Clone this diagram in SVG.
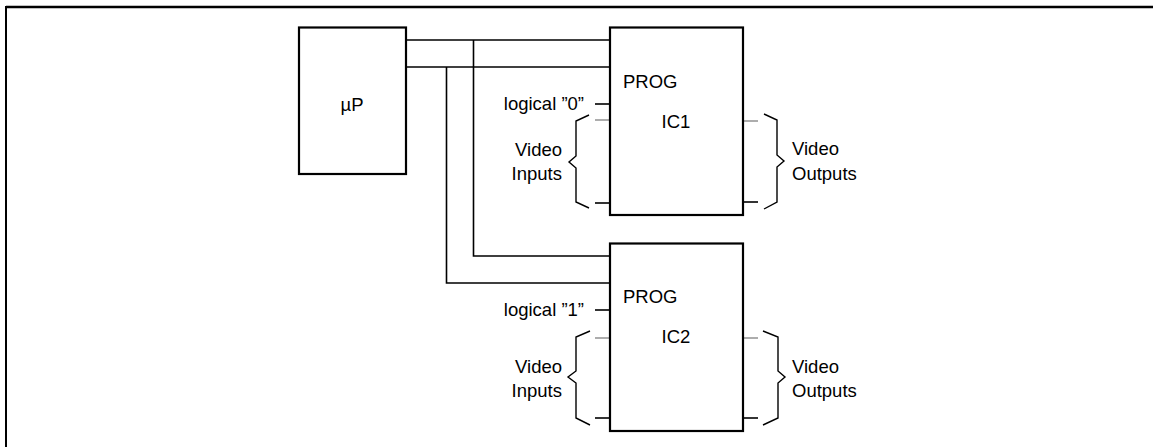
<svg xmlns="http://www.w3.org/2000/svg" width="1153" height="447" viewBox="0 0 1153 447">
<style>
text{font-family:"Liberation Sans",Arial,sans-serif;font-size:18.5px;fill:#000}
.box{fill:#fff;stroke:#000;stroke-width:2.2}
.w{fill:none;stroke:#000;stroke-width:1.6}
.g{fill:none;stroke:#808080;stroke-width:1.3}
.br{fill:none;stroke:#000;stroke-width:1.4;stroke-linejoin:miter}
.r{text-anchor:end}
</style>
<rect width="1153" height="447" fill="#fff"/>
<g id="frame">
<line x1="6" y1="7" x2="1153" y2="7" stroke="#000" stroke-width="2.6"/>
<line x1="6" y1="6" x2="6" y2="447" stroke="#000" stroke-width="2"/>
</g>
<g id="connectors">
<polyline class="w" points="406,40 610,40"/>
<polyline class="w" points="406,67 610,67"/>
<polyline class="w" points="473.5,40 473.5,256 610,256"/>
<polyline class="w" points="446.5,67 446.5,283 610,283"/>
<line class="w" x1="595" y1="104" x2="610" y2="104"/>
<line class="w" x1="595" y1="310" x2="610" y2="310"/>
<line class="g" x1="595" y1="120" x2="610" y2="120"/>
<line class="w" x1="595" y1="203" x2="610" y2="203"/>
<line class="g" x1="743" y1="121" x2="758" y2="121"/>
<line class="w" x1="743" y1="202" x2="758" y2="202"/>
<line class="g" x1="595" y1="338" x2="610" y2="338"/>
<line class="w" x1="595" y1="418" x2="610" y2="418"/>
<line class="g" x1="743" y1="338" x2="758" y2="338"/>
<line class="w" x1="743" y1="418" x2="758" y2="418"/>
</g>
<g id="braces">
<polyline class="br" points="589,115 576,121 576,156 569,162 576,168 576,202 589,208"/>
<polyline class="br" points="764,114 777,120 777,155 784,161 777,167 777,202 764,209"/>
<polyline class="br" points="590,331 576,337 576,371 568,377 576,383 576,418 590,425"/>
<polyline class="br" stroke="#444" points="763,331 778,337 778,371 785,377 778,383 778,418 763,425"/>
</g>
<g id="uP">
<rect class="box" x="299" y="27.5" width="107" height="146.5"/>
<text x="352" y="111" text-anchor="middle">µP</text>
</g>
<g id="IC1">
<rect class="box" x="610" y="27.5" width="133" height="187.5"/>
<text x="623" y="88">PROG</text>
<text x="676" y="128" text-anchor="middle">IC1</text>
</g>
<g id="IC2">
<rect class="box" x="610" y="243.5" width="133" height="187.5"/>
<text x="623" y="303">PROG</text>
<text x="676" y="343" text-anchor="middle">IC2</text>
</g>
<g id="labels">
<text class="r" x="584" y="110">logical ”0”</text>
<text class="r" x="562" y="156">Video</text>
<text class="r" x="562" y="180">Inputs</text>
<text x="792" y="155">Video</text>
<text x="792" y="180">Outputs</text>
<text class="r" x="584" y="316">logical ”1”</text>
<text class="r" x="562" y="373">Video</text>
<text class="r" x="562" y="397">Inputs</text>
<text x="792" y="373">Video</text>
<text x="792" y="397">Outputs</text>
</g>
</svg>
